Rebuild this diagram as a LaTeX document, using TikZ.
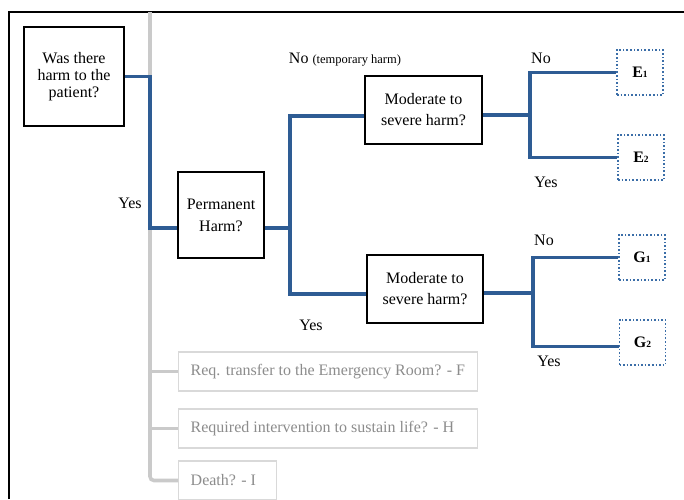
\documentclass[tikz,border=0pt]{standalone}
\usepackage{fontspec}
\setmainfont{Liberation Serif}
\definecolor{bluel}{HTML}{2E5C94}
\definecolor{dotb}{HTML}{3B6EA8}
\definecolor{glinec}{HTML}{CACACA}
\definecolor{gboxc}{HTML}{D9D9D9}
\definecolor{gtext}{HTML}{8C8C8C}
\begin{document}
\begin{tikzpicture}[x=1pt,y=-1pt,
  qbox/.style={draw=black, line width=1.6pt, fill=white, align=center, inner sep=0pt},
  gbox/.style={draw=gboxc, line width=1.4pt, fill=white, text=gtext, inner sep=0pt, minimum height=39pt, font=\fontsize{16}{18}\selectfont},
  obox/.style={draw=dotb, line width=1.8pt, dash pattern=on 1.6pt off 2pt, fill=white, minimum width=46pt, minimum height=45pt, inner sep=0pt, font=\fontsize{16}{18}\selectfont\bfseries},
  blink/.style={draw=bluel, line width=3.6pt},
  glink/.style={draw=glinec, line width=3.6pt},
  lbl/.style={inner sep=0pt, font=\fontsize{16}{18}\selectfont}
]
\useasboundingbox (0,0) rectangle (684,499);
\clip (0,0) rectangle (684,499);
% frame
\coordinate (fbl) at (9,499);
\coordinate (ftl) at (9,12);
\coordinate (ftr) at (684,12);
\draw[line width=1.5pt] (fbl) -- (ftl) -- (ftr);

% nodes
\node[qbox, minimum width=100pt, minimum height=99pt, font=\fontsize{16}{17}\selectfont] (q1) at (74,76.5) {Was there\\harm to the\\patient?};
\node[qbox, minimum width=86pt, minimum height=86pt, font=\fontsize{16}{22}\selectfont] (perm) at (221,215) {Permanent\\Harm?};
\node[qbox, minimum width=117pt, minimum height=68pt, font=\fontsize{16}{21}\selectfont] (mod1) at (423.5,110) {Moderate to\\severe harm?};
\node[qbox, minimum width=116pt, minimum height=68pt, font=\fontsize{16}{21}\selectfont] (mod2) at (425,289) {Moderate to\\severe harm?};

\node[obox] (e1) at (640,72.5) {E{\fontsize{9.5}{10}\selectfont 1}};
\node[obox] (e2) at (641,157.5) {E{\fontsize{9.5}{10}\selectfont 2}};
\node[obox] (g1) at (642,257.5) {G{\fontsize{9.5}{10}\selectfont 1}};
\node[obox] (g2) at (642.5,342.5) {G{\fontsize{9.5}{10}\selectfont 2}};

\node[gbox, anchor=west] (bf) at (178,371.5) {\makebox[299pt][l]{\hspace{12pt}Req. transfer to the Emergency Room? - F}};
\node[gbox, anchor=west] (bh) at (178,428.5) {\makebox[299pt][l]{\hspace{12pt}Required intervention to sustain life? - H}};
\node[gbox, anchor=west] (bd) at (178,480.5) {\makebox[98pt][l]{\hspace{12pt}Death? - I}};

% labels
\node[lbl] (lyes1) at (130,203) {Yes};
\node[lbl] (lno1) at (345,60) {No {\fontsize{12.5}{13}\selectfont (temporary harm)}};
\node[lbl] (lyes2) at (311,325) {Yes};
\node[lbl] (lnoE) at (541,58) {No};
\node[lbl] (lyesE) at (546,182) {Yes};
\node[lbl] (lnoG) at (544,240) {No};
\node[lbl] (lyesG) at (549,361) {Yes};

% gray connectors
\coordinate (gtop) at (150,12);
\draw[glink, rounded corners=4pt] (gtop) |- (bd.west);
\draw[glink] (gtop |- bf.west) -- (bf.west);
\draw[glink] (gtop |- bh.west) -- (bh.west);

% blue connectors
\coordinate (s1) at (150,228);
\draw[blink] (q1.east) -| (s1) -- (perm.west |- s1);
\coordinate (s2) at (290,228);
\draw[blink] (perm.east |- s2) -- (s2);
\draw[blink] ([yshift=-6pt]mod1.west) -| (s2) |- ([yshift=-5pt]mod2.west);
\coordinate (s3) at (530,115);
\draw[blink] ([yshift=-5pt]mod1.east) -- (s3);
\draw[blink] (e1.west) -| (s3) |- (e2.west);
\coordinate (s4) at (533,293);
\draw[blink] ([yshift=-4pt]mod2.east) -- (s4);
\draw[blink] (g1.west) -| (s4) |- ([yshift=-4pt]g2.west);
\end{tikzpicture}
\end{document}
